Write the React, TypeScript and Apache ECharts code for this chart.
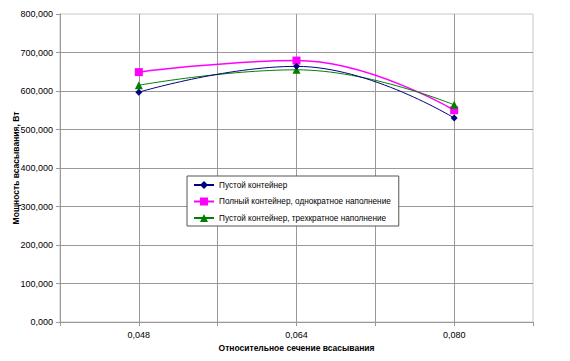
import React, { useEffect, useRef } from "react";
import * as echarts from "echarts";

const xValues = [0.048, 0.064, 0.08];
const seriesNames = [
  "Пустой контейнер",
  "Полный контейнер, однократное наполнение",
  "Пустой контейнер, трехкратное наполнение",
];
const emptyValues = [597, 664, 530];
const fullOnceValues = [649, 679, 550];
const emptyTripleValues = [615, 655, 564];
const xLabelValues = [0.048, 0.064, 0.08];

const FONT = "'Liberation Sans', Arial, sans-serif";

export default function App() {
  const ref = useRef<HTMLDivElement>(null);
  useEffect(() => {
    document.body.style.margin = "0";
    const chart = echarts.init(ref.current!, null, { renderer: "svg" });
    const pair = (vals: number[]) => xValues.map((x, i) => [x, vals[i]]);
    chart.setOption({
      animation: false,
      backgroundColor: "#ffffff",
      textStyle: { fontFamily: FONT },
      grid: {
        left: 60,
        right: 37,
        top: 14,
        bottom: 39,
        containLabel: false,
        outerBoundsMode: "none",
        show: true,
        borderColor: "#c8c8c8",
        borderWidth: 1,
      },
      legend: {
        orient: "vertical",
        left: 187,
        top: 176,
        backgroundColor: "#ffffff",
        borderColor: "#555555",
        borderWidth: 1,
        padding: [5, 8, 4, 6],
        itemWidth: 20,
        itemHeight: 10,
        itemGap: 8.5,
        textStyle: { fontSize: 8.2, color: "#000", fontFamily: FONT },
        data: seriesNames,
      },
      xAxis: {
        type: "value",
        min: 0.04,
        max: 0.088,
        interval: 0.008,
        name: "Относительное сечение всасывания",
        nameLocation: "middle",
        nameGap: 21,
        nameMoveOverlap: false,
        nameTextStyle: { fontSize: 8.5, fontWeight: "bold", color: "#000", fontFamily: FONT },
        axisLine: { show: true, lineStyle: { color: "#999999" } },
        axisTick: { show: true, length: 4, lineStyle: { color: "#999999" } },
        axisLabel: {
          fontSize: 9,
          color: "#000",
          margin: 8,
          fontFamily: FONT,
          formatter: (v: number) => {
            const hit = xLabelValues.some((l) => Math.abs(l - v) < 1e-6);
            return hit ? v.toFixed(3).replace(".", ",") : "";
          },
        },
        splitLine: { show: true, showMaxLine: false, lineStyle: { color: "#999999" } },
      },
      yAxis: {
        type: "value",
        min: 0,
        max: 800,
        interval: 100,
        name: "Мощность всасывания, Вт",
        nameLocation: "middle",
        nameGap: 40,
        nameMoveOverlap: false,
        nameTextStyle: { fontSize: 8.5, fontWeight: "bold", color: "#000", fontFamily: FONT },
        axisLine: { show: true, lineStyle: { color: "#999999" } },
        axisTick: { show: true, length: 4, lineStyle: { color: "#999999" } },
        axisLabel: {
          fontSize: 9,
          color: "#000",
          margin: 7,
          fontFamily: FONT,
          formatter: (v: number) => v.toFixed(3).replace(".", ","),
        },
        splitLine: { show: true, showMaxLine: false, lineStyle: { color: "#999999" } },
      },
      series: [
        {
          name: seriesNames[0],
          type: "line",
          data: pair(emptyValues),
          smooth: 0.45,
          symbol: "diamond",
          symbolSize: 7,
          itemStyle: { color: "#000080" },
          lineStyle: { color: "#000080", width: 1 },
          z: 3,
        },
        {
          name: seriesNames[1],
          type: "line",
          data: pair(fullOnceValues),
          smooth: 0.45,
          symbol: "rect",
          symbolSize: 8,
          itemStyle: { color: "#ff00ff" },
          lineStyle: { color: "#ff00ff", width: 1.5 },
          z: 2,
        },
        {
          name: seriesNames[2],
          type: "line",
          data: pair(emptyTripleValues),
          smooth: 0.45,
          symbol: "triangle",
          symbolSize: 8,
          itemStyle: { color: "#008000" },
          lineStyle: { color: "#008000", width: 1 },
          z: 2,
        },
      ],
    });
    return () => chart.dispose();
  }, []);
  return <div ref={ref} style={{ width: 570, height: 361 }} />;
}
